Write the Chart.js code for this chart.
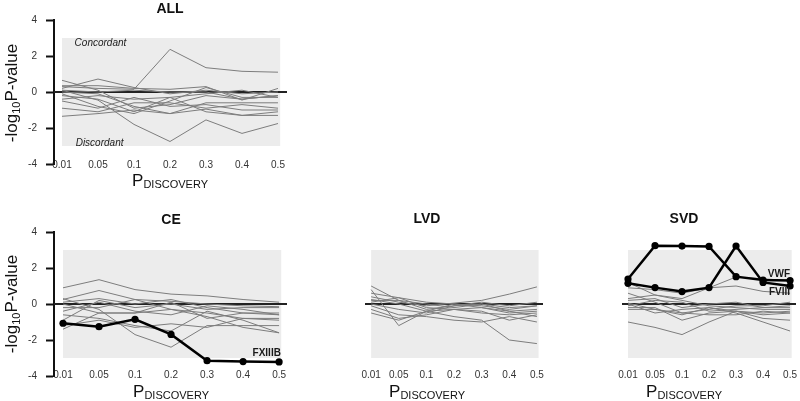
<!DOCTYPE html>
<html>
<head>
<meta charset="utf-8">
<script src="https://cdn.jsdelivr.net/npm/chart.js@4.4.1/dist/chart.umd.min.js"></script>
<style>
  body { margin: 0; background: #fff; font-family: "Liberation Sans", Arial, sans-serif; }
  #wrap { position: relative; width: 800px; height: 401px; overflow: hidden; }
  canvas { position: absolute; }
  .t { position: absolute; color: #111; white-space: nowrap; line-height: 1; }
  .ttl { font-weight: bold; font-size: 14px; transform: translate(-50%, -50%); }
  .ylab { font-size: 17px; transform: translate(-50%, -50%) rotate(-90deg); }
  .ylab sub { font-size: 11px; vertical-align: -3px; }
  .xlab { font-size: 17px; line-height: 17px; transform: translateX(-50%); }
  .xlab span { font-size: 11px; position: relative; top: 2px; }
</style>
</head>
<body>
<div id="wrap">
  <canvas id="cAll" width="300" height="200" style="left:0;top:0"></canvas>
  <canvas id="cCE" width="300" height="201" style="left:0;top:200px"></canvas>
  <canvas id="cLVD" width="290" height="201" style="left:260px;top:200px"></canvas>
  <canvas id="cSVD" width="280" height="201" style="left:520px;top:200px"></canvas>

  <div class="t ttl" style="left:170px;top:8px">ALL</div>
  <div class="t ttl" style="left:171px;top:219px">CE</div>
  <div class="t ttl" style="left:427px;top:218px">LVD</div>
  <div class="t ttl" style="left:684px;top:218px">SVD</div>

  <div class="t ylab" style="left:12px;top:93px">-log<sub>10</sub>P-value</div>
  <div class="t ylab" style="left:12px;top:304px">-log<sub>10</sub>P-value</div>

  <div class="t xlab" style="left:170px;top:172px">P<span>DISCOVERY</span></div>
  <div class="t xlab" style="left:171px;top:383px">P<span>DISCOVERY</span></div>
  <div class="t xlab" style="left:427px;top:383px">P<span>DISCOVERY</span></div>
  <div class="t xlab" style="left:684px;top:383px">P<span>DISCOVERY</span></div>
</div>
<script>
// x categories (P discovery thresholds)
const pLabels = ['0.01', '0.05', '0.1', '0.2', '0.3', '0.4', '0.5'];
const yTicks = [-4, -2, 0, 2, 4];

// -log10 P values, one row per gene
const allLines = [
  [0.3, 0.2, 0.15, 2.37, 1.35, 1.15, 1.1],
  [0.1, -0.45, -1.8, -2.75, -1.55, -2.3, -1.75],
  [0.65, 0.1, -0.9, -0.7, -0.2, -0.4, -0.2],
  [0.2, 0.72, 0.25, -0.1, 0.1, -0.1, 0.0],
  [0.35, 0.35, 0.2, 0.15, 0.3, -0.45, 0.2],
  [-0.1, -0.8, -1.2, -0.5, 0.25, -0.3, -0.3],
  [-0.4, -0.2, -0.4, -0.3, -1.1, -1.3, -1.3],
  [-0.5, -0.9, -0.3, -0.8, -0.7, -1.0, -1.0],
  [-0.9, -1.1, -0.6, -0.6, -0.9, -0.7, -0.9],
  [-1.35, -1.2, -1.0, -1.2, -0.95, -1.3, -1.1],
  [0.0, -0.1, -0.8, -1.2, -0.6, -0.6, -0.6],
  [0.1, 0.0, 0.1, 0.0, 0.0, -0.4, -0.2],
  [-0.2, -0.4, -1.1, -0.3, -0.1, 0.1, -0.3]
];

const ceLines = [
  [0.9, 1.35, 0.8, 0.55, 0.45, 0.25, 0.1],
  [0.25, 0.75, 0.25, 0.15, 0.0, -0.1, -0.15],
  [0.3, -0.3, -1.7, -2.4, -1.2, -1.2, -1.2],
  [0.1, 0.3, 0.0, 0.25, -0.2, -0.5, -0.5],
  [-0.2, -0.2, 0.25, -0.3, -0.5, -0.8, -0.9],
  [-0.4, 0.1, -0.4, -0.6, -0.1, -0.3, -0.6],
  [-0.6, -0.8, -1.2, -1.5, -0.4, -0.9, -1.6],
  [-1.4, -0.5, -0.5, -0.3, -0.7, -1.3, -1.6],
  [-1.2, -0.9, -1.3, -1.1, -1.3, -0.8, -0.8],
  [-0.9, 0.2, -0.2, 0.0, -0.3, -0.2, -0.2],
  [0.0, -0.5, -0.5, 0.1, -0.8, -0.5, -0.6]
];
const ceFXIIIB = [-1.07, -1.26, -0.85, -1.69, -3.15, -3.2, -3.22];

const lvdLines = [
  [1.0, 0.2, -0.3, -0.1, 0.0, -0.4, -0.7],
  [0.8, -1.2, -0.4, -0.3, -0.2, -0.5, -0.4],
  [0.6, 0.35, -0.2, -0.3, -0.5, -0.6, -0.5],
  [0.4, 0.1, -0.1, 0.05, 0.2, 0.55, 0.95],
  [0.25, 0.0, -0.4, -0.7, -0.9, -2.0, -2.2],
  [0.1, 0.35, 0.1, 0.0, -0.1, -0.3, -0.1],
  [0.0, -0.3, -0.5, -0.1, 0.1, -0.1, 0.1],
  [-0.1, -0.6, -0.7, -0.9, -1.0, -0.7, -1.0],
  [-0.3, -0.8, -0.6, -0.3, -0.4, -0.9, -0.6],
  [-0.5, -0.9, -0.4, 0.0, -0.2, -0.4, -0.3],
  [0.2, 0.2, 0.0, -0.2, 0.0, -0.2, -0.1]
];

const svdLines = [
  [1.2, 0.5, 0.3, 0.9, 1.5, 1.4, 1.3],
  [0.9, 0.8, 0.6, 0.9, 1.0, 0.7, 0.6],
  [0.6, 0.1, -0.5, -0.3, -0.1, -0.1, 0.1],
  [0.3, 0.5, 0.2, -0.1, -0.2, -0.3, -0.3],
  [0.05, -0.3, -0.6, -0.2, -0.4, -0.5, -0.4],
  [-0.1, 0.2, 0.1, -0.4, -0.3, -0.2, -0.1],
  [-0.2, -0.2, -0.9, -0.5, -0.4, -0.8, -0.9],
  [0.0, -0.5, -0.3, -0.2, -0.5, -1.0, -1.5],
  [-1.0, -1.3, -1.7, -1.0, -0.4, -0.6, -0.5],
  [0.2, 0.3, -0.2, 0.0, 0.1, -0.2, -0.2],
  [-0.3, -0.3, -0.5, -0.6, -0.6, -0.4, -0.5]
];
const svdVWF = [1.39, 3.24, 3.22, 3.2, 1.52, 1.33, 1.3];
const svdFVIII = [1.15, 0.91, 0.69, 0.91, 3.22, 1.2, 1.0];

const panelDeco = {
  id: 'panelDeco',
  beforeDatasetsDraw(chart, args, opts) {
    const { ctx, chartArea: a, scales: { x, y } } = chart;
    ctx.save();
    ctx.fillStyle = '#ececec';
    const x0 = x.getPixelForValue(0), x1 = x.getPixelForValue(6.06);
    const y0 = y.getPixelForValue(3), y1 = y.getPixelForValue(-3);
    ctx.fillRect(x0, y0, x1 - x0, y1 - y0);
    const yz = y.getPixelForValue(0);
    ctx.strokeStyle = '#222';
    ctx.lineWidth = 2;
    ctx.beginPath();
    ctx.moveTo(a.left, yz);
    ctx.lineTo(a.right, yz);
    ctx.stroke();
    ctx.restore();
  },
  afterDatasetsDraw(chart, args, opts) {
    const { ctx, scales: { x, y } } = chart;
    (opts.notes || []).forEach(n => {
      ctx.save();
      ctx.font = n.font;
      ctx.fillStyle = '#1a1a1a';
      ctx.textAlign = n.align;
      ctx.textBaseline = 'middle';
      ctx.fillText(n.text, x.getPixelForValue(n.x), y.getPixelForValue(n.y));
      ctx.restore();
    });
  }
};

function grayDs(rows) {
  return rows.map(r => ({
    data: r.map((v, i) => ({ x: i, y: v })),
    borderColor: '#7d7d7d', borderWidth: 1, pointRadius: 0
  }));
}
function boldDs(vals) {
  return {
    data: vals.map((v, i) => ({ x: i, y: v })),
    borderColor: '#000', borderWidth: 2.5,
    pointRadius: 3.6, pointBackgroundColor: '#000', pointBorderWidth: 0
  };
}

function makePanel(id, o) {
  new Chart(document.getElementById(id), {
    type: 'line',
    data: { datasets: [...o.bold.map(boldDs), ...grayDs(o.gray)] },
    options: {
      responsive: false, animation: false, devicePixelRatio: 1,
      layout: { padding: o.pad },
      elements: { line: { tension: 0 } },
      plugins: { legend: { display: false }, tooltip: { enabled: false }, panelDeco: { notes: o.notes || [] } },
      scales: {
        x: {
          type: 'linear', min: o.xmin, max: o.xmax,
          grid: { display: false, drawTicks: false }, border: { display: false },
          afterBuildTicks: s => { s.ticks = pLabels.map((_, i) => ({ value: i })); },
          afterFit: s => { s.height = o.xh; },
          ticks: {
            autoSkip: false, maxRotation: 0, mirror: true, padding: o.xpad,
            color: '#333', font: { size: 10, family: 'Liberation Sans' },
            callback: v => pLabels[v]
          }
        },
        y: {
          display: o.showY, min: -4, max: 4,
          afterBuildTicks: s => { s.ticks = yTicks.map(v => ({ value: v })); },
          afterFit: s => { s.width = 54; },
          border: { display: true, color: '#111', width: 2 },
          grid: { display: true, drawOnChartArea: false, drawTicks: true, tickLength: 8, tickWidth: 2, tickColor: '#111' },
          ticks: { padding: 9, color: '#333', font: { size: 10, family: 'Liberation Sans' } }
        }
      }
    },
    plugins: [panelDeco]
  });
}

makePanel('cAll', {
  gray: allLines, bold: [], showY: true,
  pad: { left: 0, right: 13, top: 20, bottom: 0 }, xh: 36, xpad: -7,
  xmin: -0.222, xmax: 6.25,
  notes: [
    { text: 'Concordant', x: 0.35, y: 2.72, align: 'left', font: 'italic 10px "Liberation Sans"' },
    { text: 'Discordant', x: 0.38, y: -2.83, align: 'left', font: 'italic 10px "Liberation Sans"' }
  ]
});
makePanel('cCE', {
  gray: ceLines, bold: [ceFXIIIB], showY: true,
  pad: { left: 0, right: 13, top: 32, bottom: 0 }, xh: 25, xpad: -5,
  xmin: -0.25, xmax: 6.22,
  notes: [{ text: 'FXIIIB', x: 6.05, y: -2.72, align: 'right', font: 'bold 10px "Liberation Sans"' }]
});
makePanel('cLVD', {
  gray: lvdLines, bold: [], showY: false,
  pad: { left: 51, right: 7, top: 32, bottom: 0 }, xh: 25, xpad: -5,
  xmin: -0.222, xmax: 6.22
});
makePanel('cSVD', {
  gray: svdLines, bold: [svdVWF, svdFVIII], showY: false,
  pad: { left: 48, right: 0, top: 32, bottom: 0 }, xh: 25, xpad: -5,
  xmin: -0.222, xmax: 6.22,
  notes: [
    { text: 'VWF', x: 6.0, y: 1.67, align: 'right', font: 'bold 10px "Liberation Sans"' },
    { text: 'FVIII', x: 6.0, y: 0.67, align: 'right', font: 'bold 10px "Liberation Sans"' }
  ]
});
</script>
</body>
</html>
